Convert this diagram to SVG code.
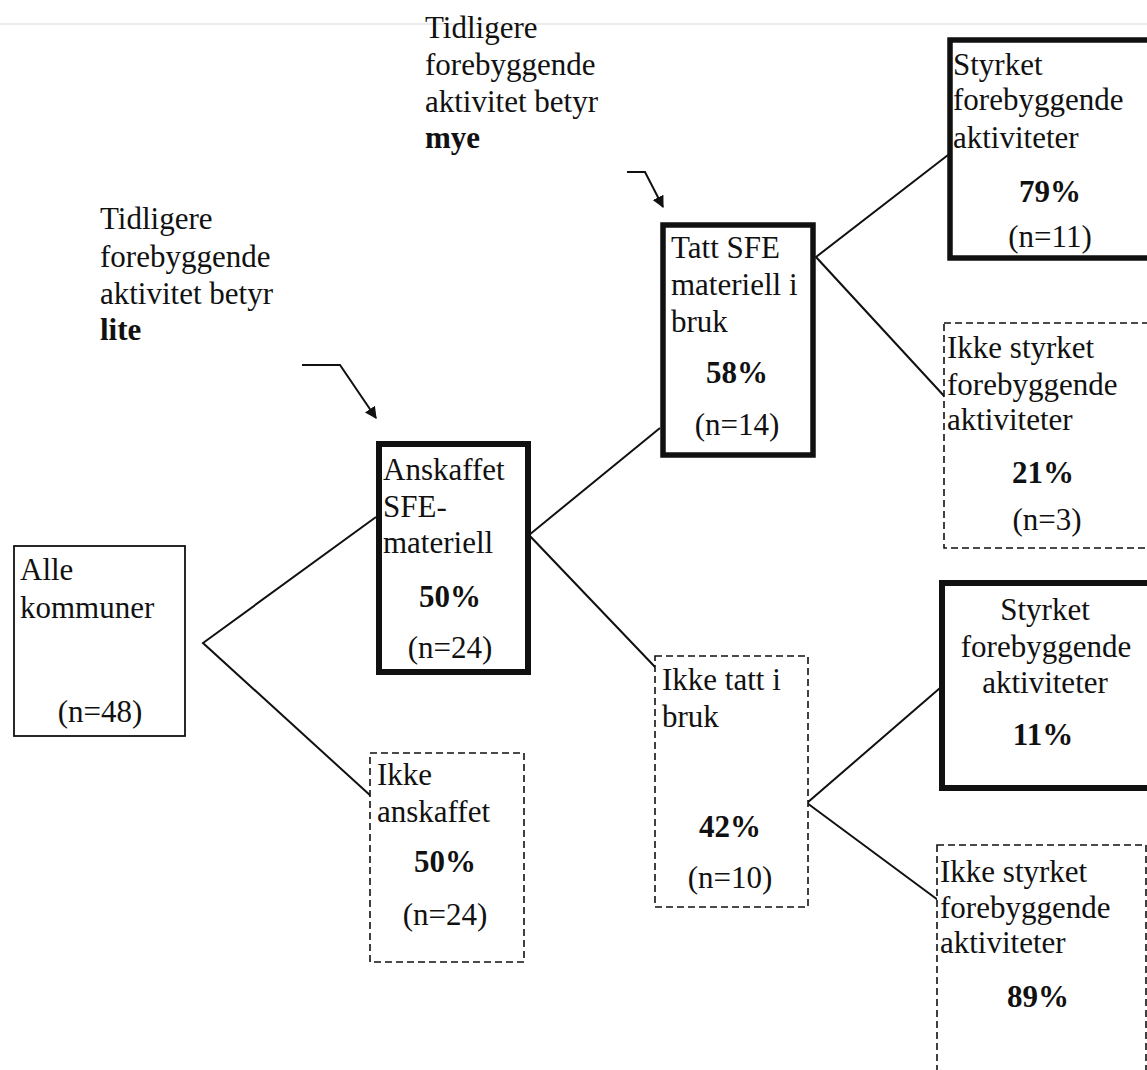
<svg xmlns="http://www.w3.org/2000/svg" width="1147" height="1070" viewBox="0 0 1147 1070">
  <style>
    text { font-family: "Liberation Serif", "Times New Roman", serif; font-size: 31px; fill: #111; }
    .b { font-weight: bold; }
    .c { text-anchor: middle; }
    .thin { fill: #fff; stroke: #111; stroke-width: 1.8; }
    .thick { fill: #fff; stroke: #111; stroke-width: 6; }
    .dash { fill: #fff; stroke: #111; stroke-width: 1.6; stroke-dasharray: 7 4; }
    .edge { fill: none; stroke: #111; stroke-width: 2; }
  </style>
  <defs>
    <marker id="head" viewBox="0 0 10 10" refX="9" refY="5" markerWidth="6" markerHeight="6" orient="auto">
      <path d="M0,0 L10,5 L0,10 z" fill="#111"/>
    </marker>
  </defs>
  <rect width="1147" height="1070" fill="#fff"/>
  <line x1="0" y1="24" x2="1147" y2="24" stroke="#ececec" stroke-width="2"/>

  <!-- annotations -->
  <g id="note-lite">
    <text x="100" y="229">Tidligere</text>
    <text x="100" y="267">forebyggende</text>
    <text x="100" y="304">aktivitet betyr</text>
    <text x="100" y="340" class="b">lite</text>
    <polyline class="edge" points="302,365 340,365 376,418" marker-end="url(#head)"/>
  </g>
  <g id="note-mye">
    <text x="425" y="38">Tidligere</text>
    <text x="425" y="75">forebyggende</text>
    <text x="425" y="112">aktivitet betyr</text>
    <text x="425" y="148" class="b">mye</text>
    <polyline class="edge" points="627,172 645,172 663,207" marker-end="url(#head)"/>
  </g>

  <!-- connectors -->
  <g id="connectors" class="edge">
    <polyline class="edge" points="376,517 203,643 372,797"/>
    <polyline class="edge" points="660,428 529,535 656,668"/>
    <polyline class="edge" points="948,155 816,257 945,397"/>
    <polyline class="edge" points="940,688 807,803 938,900"/>
  </g>

  <g id="alle">
    <rect class="thin" x="14" y="546" width="171" height="190"/>
    <text x="20" y="580">Alle</text>
    <text x="20" y="618">kommuner</text>
    <text x="100" y="722" class="c">(n=48)</text>
  </g>

  <g id="anskaffet">
    <rect class="thick" x="379" y="444" width="149" height="228"/>
    <text x="383" y="480">Anskaffet</text>
    <text x="383" y="517">SFE-</text>
    <text x="383" y="553">materiell</text>
    <text x="450" y="607" class="b c">50%</text>
    <text x="450" y="658" class="c">(n=24)</text>
  </g>

  <g id="ikke-anskaffet">
    <rect class="dash" x="370" y="753" width="154" height="209"/>
    <text x="377" y="785">Ikke</text>
    <text x="377" y="822">anskaffet</text>
    <text x="445" y="872" class="b c">50%</text>
    <text x="445" y="925" class="c">(n=24)</text>
  </g>

  <g id="tatt-i-bruk">
    <rect class="thick" x="663" y="225" width="150" height="230" style="stroke-width:5.5"/>
    <text x="671" y="258">Tatt SFE</text>
    <text x="671" y="295">materiell i</text>
    <text x="671" y="332">bruk</text>
    <text x="737" y="383" class="b c">58%</text>
    <text x="737" y="435" class="c">(n=14)</text>
  </g>

  <g id="ikke-tatt-i-bruk">
    <rect class="dash" x="655" y="656" width="153" height="251"/>
    <text x="662" y="690">Ikke tatt i</text>
    <text x="662" y="727">bruk</text>
    <text x="730" y="837" class="b c">42%</text>
    <text x="730" y="888" class="c">(n=10)</text>
  </g>

  <g id="styrket-mye">
    <rect class="thick" x="950" y="40" width="220" height="218" style="stroke-width:5.5"/>
    <text x="953" y="75">Styrket</text>
    <text x="953" y="110">forebyggende</text>
    <text x="953" y="148">aktiviteter</text>
    <text x="1050" y="202" class="b c">79%</text>
    <text x="1050" y="247" class="c">(n=11)</text>
  </g>

  <g id="ikke-styrket-mye">
    <rect class="dash" x="944" y="323" width="230" height="225"/>
    <text x="947" y="358">Ikke styrket</text>
    <text x="947" y="395">forebyggende</text>
    <text x="947" y="430">aktiviteter</text>
    <text x="1043" y="483" class="b c">21%</text>
    <text x="1047" y="530" class="c">(n=3)</text>
  </g>

  <g id="styrket-lite">
    <rect class="thick" x="942" y="583" width="230" height="205"/>
    <text x="1045" y="620" class="c">Styrket</text>
    <text x="1046" y="657" class="c">forebyggende</text>
    <text x="1045" y="693" class="c">aktiviteter</text>
    <text x="1043" y="745" class="b c">11%</text>
  </g>

  <g id="ikke-styrket-lite">
    <rect class="dash" x="937" y="845" width="209" height="240"/>
    <text x="940" y="882">Ikke styrket</text>
    <text x="940" y="918">forebyggende</text>
    <text x="940" y="953">aktiviteter</text>
    <text x="1038" y="1007" class="b c">89%</text>
  </g>
</svg>
